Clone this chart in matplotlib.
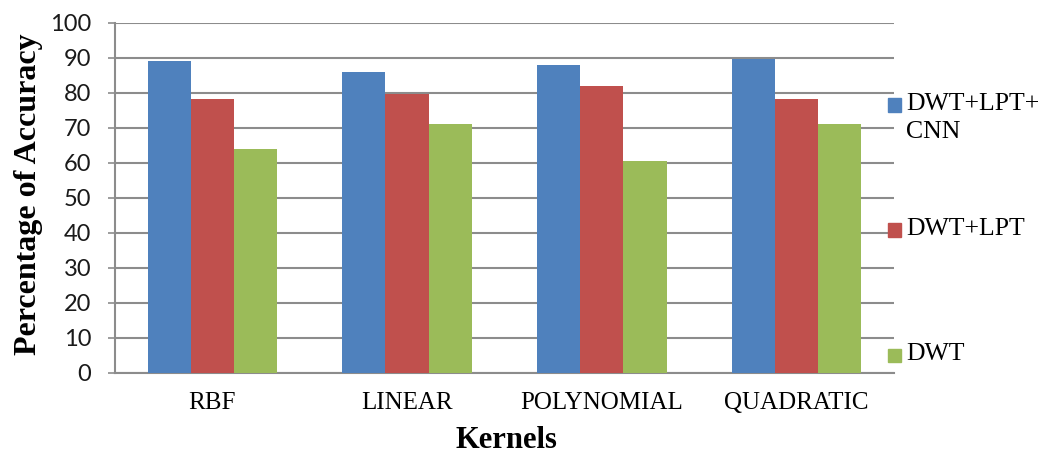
import numpy as np
import matplotlib.pyplot as plt
from matplotlib.patches import Rectangle
from matplotlib.font_manager import FontProperties

kernels = ["RBF", "LINEAR", "POLYNOMIAL", "QUADRATIC"]
series_names = ["DWT+LPT+\nCNN", "DWT+LPT", "DWT"]
dwt_lpt_cnn = [89.0, 86.0, 88.0, 89.8]
dwt_lpt = [78.4, 79.6, 82.0, 78.4]
dwt = [64.1, 71.2, 60.6, 71.2]
colors = ["#4F81BD", "#C0504D", "#9BBB59"]

grid_gray = "#8C8C8C"
serif = FontProperties(family="Liberation Serif", size=18.5)

fig = plt.figure(figsize=(10.59, 4.59), dpi=100)
ax = fig.add_axes([0.1086, 0.1874, 0.7354, 0.7625])

x = np.arange(len(kernels)) + 0.5
width = 0.222
values = [dwt_lpt_cnn, dwt_lpt, dwt]
for i, (vals, c) in enumerate(zip(values, colors)):
    ax.bar(x + (i - 1) * width, vals, width, color=c, zorder=3)

ax.set_xlim(0, len(kernels))
ax.set_ylim(0, 100)
ax.set_yticks(range(0, 101, 10))
ax.set_xticks(x)
ax.set_xticklabels(kernels, family="Liberation Serif", fontsize=18)
for lab in ax.get_yticklabels():
    lab.set_family("Lato")
    lab.set_fontsize(17)
    lab.set_color("#1a1a1a")

ax.yaxis.grid(True, color=grid_gray, linewidth=1.5, zorder=0)
ax.tick_params(axis="x", length=0, pad=14)
ax.tick_params(axis="y", length=5, width=1.2, color=grid_gray, pad=12)
for side in ["top", "right"]:
    ax.spines[side].set_visible(False)
for side in ["left", "bottom"]:
    ax.spines[side].set_color(grid_gray)
    ax.spines[side].set_linewidth(1.5)

fig.text(29 / 1059, 1 - 194 / 459, "Percentage of Accuracy", rotation=90,
         ha="center", va="center", family="Liberation Serif",
         fontweight="bold", fontsize=23)
fig.text(506 / 1059, 1 - 440 / 459, "Kernels", ha="center", va="center",
         family="Liberation Serif", fontweight="bold", fontsize=22)

# legend on the right, squares beside the first line of each label
W, H = 1059, 459
legend_y = [105, 230, 355]
for name, c, yc in zip(series_names, colors, legend_y):
    fig.patches.append(Rectangle((888 / W, 1 - (yc + 6.5) / H), 13 / W, 13 / H,
                                 transform=fig.transFigure, color=c, zorder=5))
    fig.text(906 / W, 1 - (yc - 12) / H, name, ha="left", va="top",
             fontproperties=serif, linespacing=1.35)

fig.savefig("out.png", dpi=100)
